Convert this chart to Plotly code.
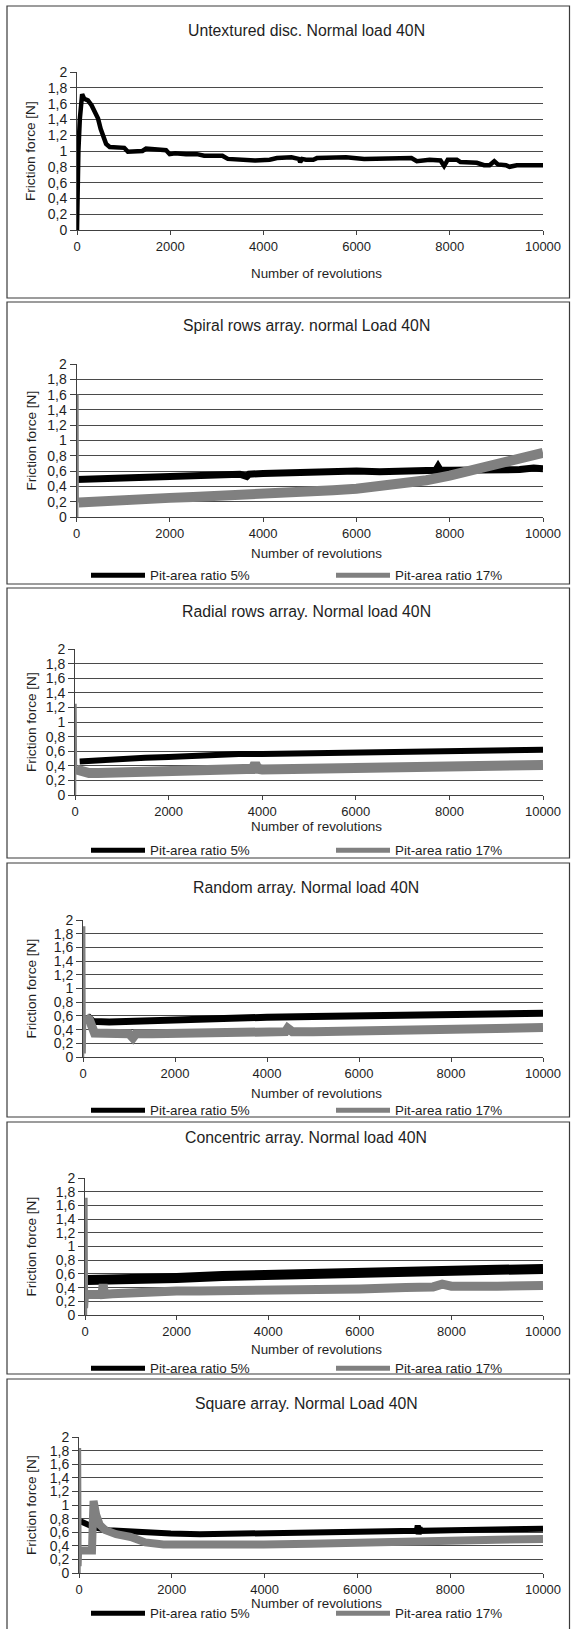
import plotly.graph_objects as go

# ---------------------------------------------------------------- data
x_tick_vals = [0, 2000, 4000, 6000, 8000, 10000]
x_tick_text = ["0", "2000", "4000", "6000", "8000", "10000"]
y_tick_vals = [0, 0.2, 0.4, 0.6, 0.8, 1.0, 1.2, 1.4, 1.6, 1.8, 2.0]
y_tick_text = ["0", "0,2", "0,4", "0,6", "0,8", "1", "1,2", "1,4", "1,6", "1,8", "2"]

panel_titles = [
    "Untextured disc. Normal load 40N",
    "Spiral rows array. normal Load 40N",
    "Radial rows array. Normal load 40N",
    "Random array. Normal load 40N",
    "Concentric array. Normal load 40N",
    "Square array. Normal Load 40N",
]
series_names = ["Pit-area ratio 5%", "Pit-area ratio 17%"]
x_title = "Number of revolutions"
y_title = "Friction force [N]"

# Untextured disc
untextured_rev = [0, 5, 30, 60, 95, 110, 156, 234, 312, 390, 452, 507, 562, 624, 702, 858,
                  1014, 1092, 1248, 1404, 1482, 1638, 1794, 1911, 1989, 2106,
                  2340, 2574, 2730, 2964, 3120, 3237, 3510, 3822, 4134, 4290,
                  4602, 4758, 4790, 4830, 4914, 5070, 5148, 5772, 6162, 6552,
                  6942, 7176, 7293, 7566, 7800, 7878, 7956, 8151, 8229, 8463,
                  8580, 8736, 8853, 8955, 9033, 9204, 9282, 9438, 9750, 10000]
untextured_force = [0.0, 0.6, 1.0, 1.4, 1.70, 1.72, 1.66, 1.64, 1.58, 1.49, 1.41, 1.28, 1.18, 1.09, 1.05, 1.05,
                    1.04, 0.99, 0.99, 1.00, 1.03, 1.02, 1.01, 1.01, 0.96, 0.97,
                    0.96, 0.96, 0.94, 0.94, 0.94, 0.90, 0.89, 0.88, 0.89, 0.91,
                    0.92, 0.90, 0.86, 0.90, 0.89, 0.89, 0.91, 0.92, 0.90, 0.90,
                    0.91, 0.91, 0.87, 0.89, 0.88, 0.81, 0.89, 0.89, 0.86, 0.86,
                    0.85, 0.82, 0.82, 0.87, 0.83, 0.82, 0.80, 0.82, 0.82, 0.82]

# Spiral rows array
spiral_rev_5 = [0, 500, 1000, 1500, 2000, 2500, 3000, 3500, 3650, 3700,
                4000, 4500, 5000, 5500, 6000, 6500, 7000, 7500, 7700, 7750,
                7800, 8000, 8500, 9000, 9500, 9800, 10000]
spiral_force_5 = [0.49, 0.50, 0.51, 0.52, 0.53, 0.54, 0.55, 0.56, 0.53, 0.56,
                  0.57, 0.58, 0.58, 0.59, 0.60, 0.59, 0.60, 0.60, 0.61, 0.66,
                  0.61, 0.61, 0.61, 0.62, 0.62, 0.64, 0.63]
spiral_start_rev_17 = [0, 15, 20, 25, 50]
spiral_start_force_17 = [0.0, 0.0, 1.6, 0.25, 0.19]
spiral_rev_17 = [50, 500, 1000, 1500, 2000, 2500, 3000, 3500, 4000, 4500, 5000,
                 5500, 6000, 6500, 7000, 7500, 8000, 8500, 9000, 9500, 10000]
spiral_force_17 = [0.19, 0.21, 0.22, 0.24, 0.25, 0.26, 0.27, 0.28, 0.30, 0.31, 0.33,
                   0.35, 0.37, 0.40, 0.44, 0.48, 0.54, 0.61, 0.71, 0.78, 0.84]

# Radial rows array
radial_rev_5 = [100, 500, 1000, 1500, 2000, 2500, 3000, 3500, 4000, 5000, 6000, 7000, 8000, 9000, 10000]
radial_force_5 = [0.46, 0.48, 0.50, 0.51, 0.52, 0.54, 0.55, 0.56, 0.56, 0.57, 0.59, 0.60, 0.61, 0.61, 0.62]
radial_start_rev_17 = [0, 10, 20, 30]
radial_start_force_17 = [0.0, 1.25, 0.3, 0.35]
radial_rev_17 = [30, 100, 300, 500, 1000, 1500, 2000, 2500, 3000, 3500,
                 3800, 3850, 3900, 4000, 5000, 6000, 7000, 8000, 9000, 10000]
radial_force_17 = [0.35, 0.33, 0.30, 0.30, 0.31, 0.32, 0.33, 0.33, 0.34, 0.35,
                   0.36, 0.43, 0.36, 0.35, 0.36, 0.37, 0.38, 0.39, 0.40, 0.41]

# Random array
random_rev_5 = [95, 214, 570, 1000, 1500, 2000, 2500, 3000, 3500, 4000, 5000, 6000, 7000, 8000, 9000, 10000]
random_force_5 = [0.60, 0.52, 0.51, 0.52, 0.54, 0.55, 0.56, 0.57, 0.57, 0.58, 0.59, 0.60, 0.61, 0.62, 0.63, 0.64]
random_start_rev_17 = [0, 25, 35, 45, 60]
random_start_force_17 = [0.0, 1.91, 0.05, 0.6, 0.58]
random_rev_17 = [60, 135, 250, 570, 1000, 1084, 1150, 1500, 2000, 2500,
                 3000, 3500, 4000, 4400, 4450, 4550, 5000, 6000, 7000, 8000, 9000, 10000]
random_force_17 = [0.58, 0.55, 0.35, 0.35, 0.34, 0.28, 0.34, 0.34, 0.35, 0.35,
                   0.36, 0.36, 0.37, 0.37, 0.42, 0.37, 0.37, 0.38, 0.39, 0.41, 0.42, 0.43]

# Concentric array
concentric_rev_5 = [50, 500, 1000, 1500, 2000, 3000, 4000, 5000, 6000, 7000, 8000, 9000, 10000]
concentric_force_5 = [0.51, 0.51, 0.52, 0.53, 0.54, 0.57, 0.59, 0.61, 0.63, 0.64, 0.66, 0.66, 0.67]
concentric_start_rev_17 = [0, 20, 30, 40, 60]
concentric_start_force_17 = [0.0, 0.0, 1.71, 0.1, 0.30]
concentric_rev_17 = [60, 300, 373, 397, 420, 600, 1088, 1500, 2000, 2500,
                     3000, 4000, 5000, 6000, 7000, 7600, 7800, 8000, 9000, 10000]
concentric_force_17 = [0.30, 0.30, 0.30, 0.45, 0.30, 0.31, 0.33, 0.34, 0.35, 0.35,
                       0.35, 0.36, 0.37, 0.38, 0.40, 0.41, 0.45, 0.42, 0.42, 0.43]

# Square array
square_rev_5 = [31, 173, 330, 644, 1115, 1586, 1978, 2606, 3980, 5000,
                5981, 7000, 7280, 7300, 7320, 7340, 7380, 8022, 9000, 10000]
square_force_5 = [0.76, 0.71, 0.67, 0.63, 0.61, 0.58, 0.58, 0.57, 0.58, 0.59,
                  0.61, 0.62, 0.62, 0.70, 0.57, 0.66, 0.62, 0.63, 0.64, 0.65]
square_start_rev_17 = [0, 10, 20, 30, 40]
square_start_force_17 = [0.0, 0.0, 1.84, 0.1, 0.33]
square_rev_17 = [40, 150, 280, 300, 314, 369, 447, 565, 800, 1115, 1272,
                 1428, 1821, 2606, 3980, 5000, 5981, 7000, 8000, 9000, 10000]
square_force_17 = [0.33, 0.33, 0.33, 0.80, 1.06, 0.86, 0.71, 0.63, 0.57, 0.53, 0.50,
                   0.45, 0.42, 0.41, 0.42, 0.43, 0.45, 0.46, 0.48, 0.49, 0.50]

# ---------------------------------------------------------------- layout geometry (px)
W, H = 571, 1629
FONT = "Liberation Sans, Arial, sans-serif"
BLACK = "#000000"
GREY = "#808080"
TEXT = "#1e1e1e"


def fx(p):
    return p / W


def fy(p):
    return 1 - p / H


panel_boxes = [(6, 298), (302, 584), (588, 858), (863, 1117), (1122, 1374), (1379, 1640)]
plot_x = [(77, 543), (76.5, 543), (75, 543), (83, 543), (85, 543), (79, 543)]
plot_y = [(72, 230), (364, 517), (649, 795), (920, 1057), (1178, 1315), (1437, 1573)]
title_y = [31, 326, 612, 887, 1137, 1403]
xtitle_y = [273, 553, 826, 1093, 1349, 1603]
# legend anchor: (pixel y, anchor side)
legend_pos = [None, (575.5, "middle"), (850.5, "middle"), (1110.5, "middle"),
              (1368.5, "middle"), (1629, "bottom")]
widths = [(4.5, None), (7, 10), (6, 10), (7, 9), (10, 9), (6, 8)]

panels = [
    dict(black=(untextured_rev, untextured_force)),
    dict(black=(spiral_rev_5, spiral_force_5), grey=(spiral_rev_17, spiral_force_17),
         start=(spiral_start_rev_17, spiral_start_force_17)),
    dict(black=(radial_rev_5, radial_force_5), grey=(radial_rev_17, radial_force_17),
         start=(radial_start_rev_17, radial_start_force_17)),
    dict(black=(random_rev_5, random_force_5), grey=(random_rev_17, random_force_17),
         start=(random_start_rev_17, random_start_force_17)),
    dict(black=(concentric_rev_5, concentric_force_5), grey=(concentric_rev_17, concentric_force_17),
         start=(concentric_start_rev_17, concentric_start_force_17)),
    dict(black=(square_rev_5, square_force_5), grey=(square_rev_17, square_force_17),
         start=(square_start_rev_17, square_start_force_17)),
]

fig = go.Figure()
layout = dict(
    width=W, height=H,
    margin=dict(l=0, r=0, t=0, b=0, autoexpand=False),
    paper_bgcolor="white", plot_bgcolor="white",
    font=dict(family=FONT, color=TEXT, size=13),
    showlegend=True,
    shapes=[], annotations=[],
)

legend_count = 0
for i, p in enumerate(panels):
    n = i + 1
    xa = "x" if n == 1 else f"x{n}"
    ya = "y" if n == 1 else f"y{n}"
    xkey = "xaxis" if n == 1 else f"xaxis{n}"
    ykey = "yaxis" if n == 1 else f"yaxis{n}"
    leg = None
    if "grey" in p:
        legend_count += 1
        leg = "legend" if legend_count == 1 else f"legend{legend_count}"

    wb, wg = widths[i]
    bx, by = p["black"]
    fig.add_trace(go.Scatter(
        x=bx, y=by, mode="lines", xaxis=xa, yaxis=ya,
        line=dict(color=BLACK, width=wb),
        name=series_names[0], showlegend=leg is not None,
        legend=leg if leg else "legend", legendgroup=f"p{n}a", hoverinfo="skip",
    ))
    if "grey" in p:
        sx, sy = p["start"]
        fig.add_trace(go.Scatter(
            x=sx, y=sy, mode="lines", xaxis=xa, yaxis=ya,
            line=dict(color=GREY, width=2.5),
            name=series_names[1], showlegend=False, legend=leg,
            legendgroup=f"p{n}b", hoverinfo="skip",
        ))
        gx, gy = p["grey"]
        fig.add_trace(go.Scatter(
            x=gx, y=gy, mode="lines", xaxis=xa, yaxis=ya,
            line=dict(color=GREY, width=wg),
            name=series_names[1], showlegend=True, legend=leg,
            legendgroup=f"p{n}b", hoverinfo="skip",
        ))
        ly, lanchor = legend_pos[i]
        layout[leg] = dict(
            orientation="h", x=fx(86), y=fy(ly),
            xanchor="left", yanchor=lanchor,
            bgcolor="rgba(0,0,0,0)", borderwidth=0,
            font=dict(family=FONT, size=13.4, color=TEXT),
            itemsizing="constant", itemwidth=54,
            entrywidth=176, entrywidthmode="pixels",
            traceorder="normal", tracegroupgap=0,
        )

    x0, x1 = plot_x[i]
    y0, y1 = plot_y[i]
    layout[xkey] = dict(
        domain=[fx(x0), fx(x1)], anchor=ya, range=[0, 10000],
        tickvals=x_tick_vals, ticktext=x_tick_text,
        ticks="outside", ticklen=4, tickcolor="#404040", tickwidth=1,
        showline=True, linecolor="#404040", linewidth=1,
        showgrid=False, zeroline=False, fixedrange=True,
        tickfont=dict(size=13, color=TEXT),
    )
    layout[ykey] = dict(
        domain=[fy(y1), fy(y0)], anchor=xa, range=[0, 2],
        tickvals=y_tick_vals, ticktext=y_tick_text,
        ticks="outside", ticklen=6, tickcolor="#404040", tickwidth=1,
        showline=True, linecolor="#404040", linewidth=1,
        showgrid=True, gridcolor="#4a4a4a", gridwidth=1,
        zeroline=False, fixedrange=True,
        tickfont=dict(size=14, color=TEXT),
    )

    # panel frame
    t, b = panel_boxes[i]
    layout["shapes"].append(dict(
        type="rect", xref="paper", yref="paper",
        x0=fx(7), x1=fx(569.5), y0=fy(b), y1=fy(t),
        line=dict(color="#3a3a3a", width=1.2), fillcolor="rgba(0,0,0,0)", layer="below",
    ))
    # panel title
    layout["annotations"].append(dict(
        text=panel_titles[i], xref="paper", yref="paper",
        x=fx(306), y=fy(title_y[i]), xanchor="center", yanchor="middle",
        showarrow=False, font=dict(size=15.8, color=TEXT),
    ))
    # axis titles
    layout["annotations"].append(dict(
        text=x_title, xref="paper", yref="paper",
        x=fx(316), y=fy(xtitle_y[i]), xanchor="center", yanchor="middle",
        showarrow=False, font=dict(size=13.4, color=TEXT),
    ))
    layout["annotations"].append(dict(
        text=y_title, xref="paper", yref="paper", textangle=-90,
        x=fx(31), y=fy((y0 + y1) / 2), xanchor="center", yanchor="middle",
        showarrow=False, font=dict(size=13.6, color=TEXT),
    ))

fig.update_layout(**layout)
fig.write_html("out.html")
